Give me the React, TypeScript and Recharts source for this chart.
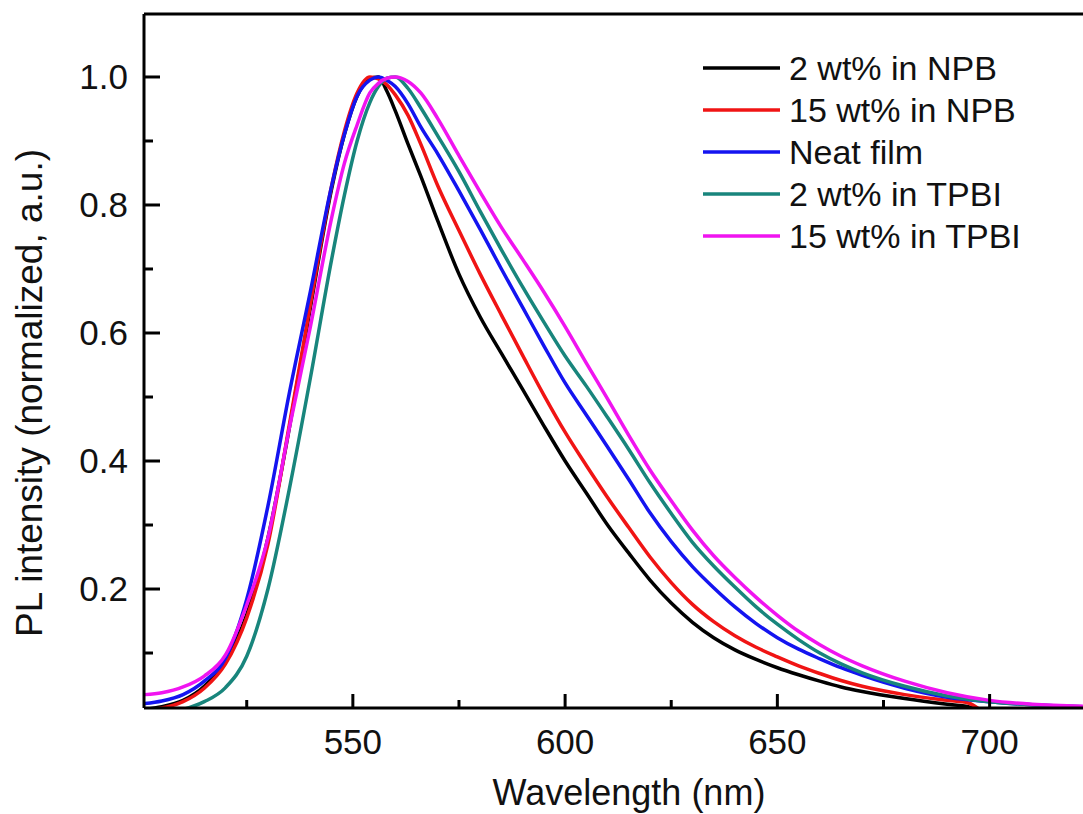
import { LineChart, Line, XAxis, YAxis, Legend } from 'recharts'

// wavelength grids (nm)
const wlShort = [
  501, 505, 510, 515, 520, 525, 530, 535, 540, 545, 548, 551, 554, 556, 558, 560, 563, 566, 570, 575,
  580, 585, 590, 595, 600, 605, 610, 615, 620, 625, 630, 635, 640, 645, 650, 655, 660, 665, 670, 680,
  690, 695, 698,
]
const wlLong = [
  501, 505, 510, 515, 520, 525, 530, 535, 540, 545, 548, 551, 554, 556, 558, 560, 563, 566, 570, 575,
  580, 585, 590, 595, 600, 605, 610, 615, 620, 625, 630, 635, 640, 645, 650, 655, 660, 665, 670, 680,
  690, 700, 710, 722,
]

// normalized PL intensity
const plNpb2 = [
  0.012, 0.016, 0.026, 0.048, 0.088, 0.16, 0.28, 0.45, 0.64, 0.825, 0.91, 0.97, 0.997, 1.0, 0.978, 0.947,
  0.895, 0.845, 0.775, 0.692, 0.625, 0.568, 0.512, 0.455, 0.4, 0.35, 0.3, 0.256, 0.214, 0.178, 0.148, 0.124,
  0.105, 0.09, 0.077, 0.066, 0.056, 0.047, 0.04, 0.029, 0.02, 0.016, 0.01,
]
const plNpb15 = [
  0.011, 0.014, 0.024, 0.045, 0.083, 0.155, 0.27, 0.455, 0.645, 0.83, 0.915, 0.975, 1.0, 0.997, 0.988, 0.972,
  0.94, 0.895, 0.83, 0.76, 0.692, 0.628, 0.565, 0.503, 0.445, 0.393, 0.343, 0.296, 0.25, 0.21, 0.176, 0.149,
  0.127, 0.109, 0.094, 0.08, 0.068, 0.057, 0.048, 0.035, 0.026, 0.022, 0.01,
]
const plNeat = [
  0.021, 0.025, 0.035, 0.056, 0.092, 0.184, 0.33, 0.505, 0.665, 0.83, 0.91, 0.97, 0.995, 1.0, 0.995, 0.985,
  0.958, 0.922, 0.88, 0.822, 0.762, 0.7, 0.64, 0.58, 0.522, 0.472, 0.422, 0.371, 0.319, 0.274, 0.235,
  0.202, 0.172, 0.146, 0.124, 0.106, 0.091, 0.077, 0.065, 0.045, 0.031, 0.024, 0.019, 0.016,
]
const plTpbi2 = [
  0.005, 0.007, 0.012, 0.024, 0.046, 0.095, 0.2, 0.355, 0.53, 0.715, 0.815, 0.9, 0.96, 0.985, 0.998, 1.0,
  0.982, 0.952, 0.908, 0.852, 0.79, 0.73, 0.672, 0.617, 0.564, 0.517, 0.468, 0.418, 0.366, 0.318, 0.273,
  0.236, 0.203, 0.172, 0.145, 0.121, 0.1, 0.083, 0.069, 0.048, 0.033, 0.024, 0.019, 0.016,
]
const plTpbi15 = [
  0.035, 0.038, 0.047, 0.064, 0.097, 0.175, 0.28, 0.45, 0.61, 0.78, 0.865, 0.925, 0.975, 0.99, 0.998, 1.0,
  0.993, 0.975, 0.935, 0.877, 0.82, 0.765, 0.715, 0.664, 0.61, 0.553, 0.497, 0.44, 0.386, 0.338, 0.292, 0.252,
  0.218, 0.187, 0.159, 0.134, 0.113, 0.095, 0.08, 0.056, 0.038, 0.026, 0.02, 0.017,
]

const xMajor = [550, 600, 650, 700]
const xMinor = [525, 575, 625, 675]
const yMajor = [0.2, 0.4, 0.6, 0.8, 1.0]
const yMinor = [0.1, 0.3, 0.5, 0.7, 0.9]

const series = [
  { name: '2 wt% in NPB', color: '#000000', wl: wlShort, pl: plNpb2 },
  { name: '15 wt% in NPB', color: '#f01414', wl: wlShort, pl: plNpb15 },
  { name: 'Neat film', color: '#1414f0', wl: wlLong, pl: plNeat },
  { name: '2 wt% in TPBI', color: '#18857c', wl: wlLong, pl: plTpbi2 },
  { name: '15 wt% in TPBI', color: '#f014f0', wl: wlLong, pl: plTpbi15 },
]

const FONT = '"Liberation Sans", Arial, sans-serif'

const toPoints = (wl: number[], pl: number[]) => wl.map((w, i) => ({ wl: w, pl: pl[i] }))

function XTick(props: any) {
  const { x, y, payload } = props
  const major = xMajor.includes(payload.value)
  return (
    <g>
      <line x1={x} x2={x} y1={y} y2={y - (major ? 14 : 8)} stroke="#000" strokeWidth={3} />
      {major && (
        <text x={x} y={y + 46} textAnchor="middle" fontSize={35} fontFamily={FONT} fill="#111">
          {payload.value}
        </text>
      )}
    </g>
  )
}

function YTick(props: any) {
  const { x, y, payload } = props
  const major = yMajor.some((v) => Math.abs(v - payload.value) < 1e-6)
  return (
    <g>
      <line x1={x} x2={x + (major ? 16 : 9)} y1={y} y2={y} stroke="#000" strokeWidth={3} />
      {major && (
        <text x={x - 16} y={y + 12} textAnchor="end" fontSize={35} fontFamily={FONT} fill="#111">
          {payload.value.toFixed(1)}
        </text>
      )}
    </g>
  )
}

function LegendBox() {
  return (
    <svg width={380} height={215} style={{ display: 'block' }}>
      {series.map((s, i) => (
        <g key={s.name}>
          <line x1={3} x2={80} y1={23 + i * 42} y2={23 + i * 42} stroke={s.color} strokeWidth={3.5} />
          <text x={89} y={23 + i * 42 + 12} fontSize={34} fontFamily={FONT} fill="#111">
            {s.name}
          </text>
        </g>
      ))}
    </svg>
  )
}

export default function App() {
  return (
    <div style={{ position: 'absolute', left: 0, top: 0, width: 1083, height: 814, background: '#fff' }}>
      <LineChart width={1083} height={814} margin={{ top: 13, right: 0, bottom: 56, left: 143 }}>
        <XAxis
          dataKey="wl"
          type="number"
          domain={[500.8, 722]}
          allowDataOverflow
          ticks={[...xMinor, ...xMajor].sort((a, b) => a - b)}
          interval={0}
          height={50}
          tickSize={0}
          tickMargin={0}
          tickLine={false}
          tick={<XTick />}
          axisLine={{ stroke: '#000', strokeWidth: 3 }}
          label={{
            content: () => (
              <text x={629} y={805} textAnchor="middle" fontSize={36} fontFamily={FONT} fill="#111">
                Wavelength (nm)
              </text>
            ),
          }}
        />
        <XAxis
          xAxisId="top"
          orientation="top"
          type="number"
          domain={[500.8, 722]}
          allowDataOverflow
          height={1}
          tick={false}
          tickLine={false}
          axisLine={{ stroke: '#000', strokeWidth: 3 }}
        />
        <YAxis
          type="number"
          domain={[0.0141, 1.0984]}
          allowDataOverflow
          ticks={[...yMinor, ...yMajor].sort((a, b) => a - b)}
          interval={0}
          width={1}
          tickSize={0}
          tickMargin={0}
          tickLine={false}
          tick={<YTick />}
          axisLine={{ stroke: '#000', strokeWidth: 3 }}
          label={{
            content: () => (
              <text
                x={42}
                y={393}
                transform="rotate(-90 42 393)"
                textAnchor="middle"
                fontSize={37}
                fontFamily={FONT}
                fill="#111"
              >
                PL intensity (normalized, a.u.)
              </text>
            ),
          }}
        />
        <Legend
          layout="horizontal"
          verticalAlign="middle"
          align="center"
          wrapperStyle={{ left: 700, top: 45, width: 380 }}
          content={() => <LegendBox />}
        />
        {series.map((s) => (
          <Line
            key={s.name}
            name={s.name}
            data={toPoints(s.wl, s.pl)}
            dataKey="pl"
            type="monotone"
            stroke={s.color}
            strokeWidth={3.5}
            dot={false}
            activeDot={false}
            isAnimationActive={false}
          />
        ))}
      </LineChart>
    </div>
  )
}
